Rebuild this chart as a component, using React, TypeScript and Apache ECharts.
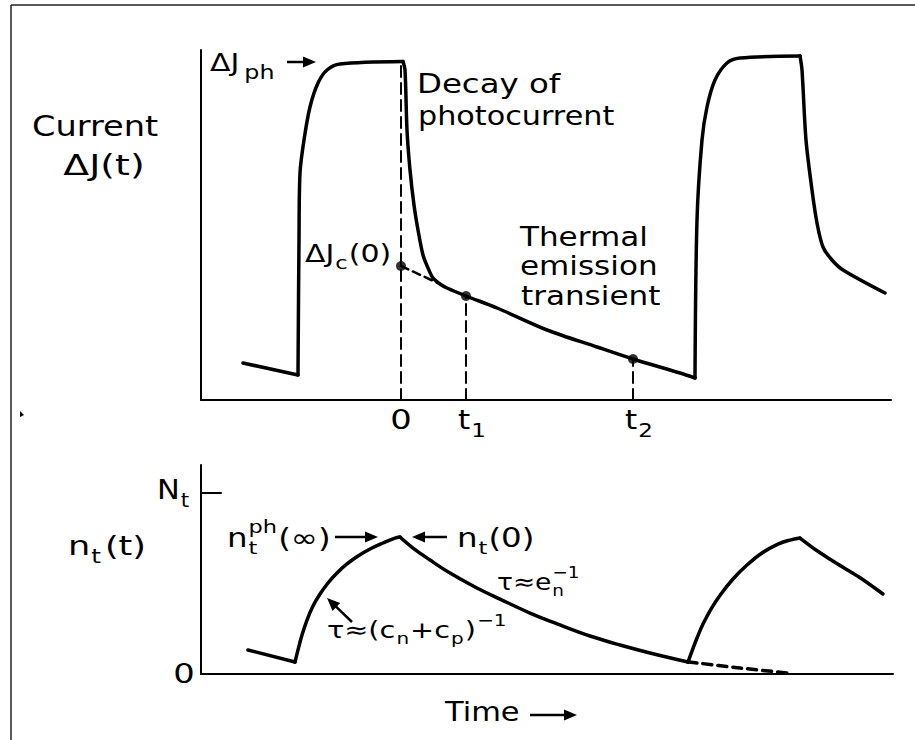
import React, { useEffect, useRef } from 'react';
import * as echarts from 'echarts';

// ---------- Top panel: current ΔJ(t) vs time (arbitrary units, t = 0 at end of light pulse) ----------
const currentStart = [[-15.8, 3.7], [-10.3, 2.5]];
const currentRise1 = [[-10.3, 2.5], [-10.2, 16.0], [-10.1, 22.7], [-9.7, 26.0], [-9.1, 29.3], [-8.3, 31.7], [-7.4, 33.0], [-6.1, 33.6], [0.2, 33.85]];
const currentDecay1 = [[0.2, 33.85], [0.4, 33.0], [0.6, 27.0], [0.9, 23.0], [1.3, 19.5], [1.7, 17.0], [2.2, 14.5], [2.7, 13.2], [3.2, 12.2], [3.9, 11.6], [4.6, 11.2], [6.5, 10.4], [9.6, 9.2], [14.6, 7.0], [19.6, 5.3], [23.2, 4.1], [27.9, 2.7], [29.4, 2.2]];
const currentRise2 = [[29.4, 2.2], [29.6, 18.0], [30.1, 26.0], [30.6, 29.3], [31.4, 32.0], [32.6, 33.7], [33.9, 34.2], [39.9, 34.4]];
const currentDecay2 = [[39.9, 34.4], [40.1, 33.0], [40.5, 26.0], [41.1, 21.0], [41.6, 17.7], [42.2, 15.3], [43.1, 14.0], [44.2, 13.0], [48.4, 10.7]];
const thermalExtrapolation = [[0, 13.4], [3.9, 11.6]];
const markedPoints = [[0, 13.4], [6.5, 10.4], [23.2, 4.1]];
const dropLineTops = [[0, 33.8], [6.5, 10.4], [23.2, 4.1]];
const tickTimes = [0, 6.5, 23.2];
const tickNames = [['0', ''], ['t', '1'], ['t', '2']];

// ---------- Bottom panel: trap occupancy n_t(t) (fraction of N_t) ----------
const occStart = [[-15.3, 0.133], [-10.6, 0.066]];
const occRise1 = [[-10.6, 0.066], [-10.3, 0.133], [-9.9, 0.215], [-9.4, 0.298], [-8.8, 0.376], [-8.1, 0.442], [-7.3, 0.503], [-6.4, 0.558], [-5.4, 0.608], [-4.3, 0.652], [-3.1, 0.691], [-1.8, 0.724], [-0.6, 0.751], [-0.1, 0.757]];
const occDecay1 = [[-0.1, 0.757], [1.2, 0.696], [2.9, 0.630], [4.9, 0.558], [7.4, 0.481], [9.9, 0.414], [12.9, 0.337], [15.9, 0.271], [18.9, 0.210], [21.9, 0.160], [24.9, 0.116], [28.7, 0.066]];
const occRise2 = [[28.7, 0.066], [29.1, 0.127], [29.6, 0.199], [30.2, 0.276], [31.0, 0.359], [32.0, 0.442], [33.2, 0.525], [34.6, 0.602], [36.1, 0.669], [37.7, 0.718], [38.9, 0.740], [39.9, 0.751]];
const occDecay2 = [[39.9, 0.751], [41.5, 0.685], [43.5, 0.613], [45.8, 0.536], [48.2, 0.442]];
const occExtrapolation = [[28.7, 0.066], [29.6, 0.061], [33.9, 0.033], [38.6, 0.006]];
const NtLevel = 1;
const NtTick = [[-20, NtLevel], [-18, NtLevel]];

const FONT = '"DejaVu Sans", sans-serif';
const SX = 1.13;
let measureCtx: CanvasRenderingContext2D | null = null;
function measure(t: string, size: number) {
  if (!measureCtx) measureCtx = document.createElement('canvas').getContext('2d');
  measureCtx!.font = `${size}px "DejaVu Sans"`;
  return measureCtx!.measureText(t).width;
}
type Part = { t: string; k?: 'n' | 'sub' | 'sup'; stay?: boolean; gap?: number; size?: number };
function label(x: number, y: number, parts: Part[], size: number, align: 'left' | 'center' = 'left', sx = SX) {
  const small = Math.round(size * 0.7);
  let cx = 0;
  const items: any[] = [];
  for (const p of parts) {
    const k = p.k || 'n';
    const fs = p.size ?? (k === 'n' ? size : small);
    const dy = k === 'sub' ? size * 0.38 : k === 'sup' ? -size * 0.42 : 0;
    cx += p.gap ?? 0;
    const w = measure(p.t, fs) * sx;
    items.push({ t: p.t, fs, dx: cx + (k !== 'n' ? 1 : 0), dy });
    if (!p.stay) cx += w + (k !== 'n' ? 2 : 0);
  }
  const x0 = align === 'center' ? x - cx / 2 : x;
  return items.map((it) => ({
    type: 'text', x: x0 + it.dx, y: y + it.dy, scaleX: sx, silent: true,
    style: { text: it.t, fontSize: it.fs, fontFamily: FONT, fill: '#000', align: 'left', verticalAlign: 'middle', textAlign: 'left', textVerticalAlign: 'middle' },
  }));
}
function arrow(x1: number, y1: number, x2: number, y2: number) {
  const L = Math.hypot(x2 - x1, y2 - y1);
  const dx = (x2 - x1) / L, dy = (y2 - y1) / L;
  const hl = 13, hw = 5.5;
  const bx = x2 - dx * hl, by = y2 - dy * hl;
  const px = -dy, py = dx;
  return [
    { type: 'line', silent: true, shape: { x1, y1, x2: bx + dx * 3, y2: by + dy * 3 }, style: { stroke: '#000', lineWidth: 2.5 } },
    { type: 'polygon', silent: true, shape: { points: [[x2, y2], [bx + px * hw, by + py * hw], [bx - px * hw, by - py * hw]] }, style: { fill: '#000' } },
  ];
}

export default function App() {
  const ref = useRef<HTMLDivElement>(null);
  useEffect(() => {
    const chart = echarts.init(ref.current!, null, { renderer: 'svg' });
    const axisBase = {
      axisLine: { show: true, onZero: false, lineStyle: { color: '#000', width: 2 } },
      axisTick: { show: false }, axisLabel: { show: false }, splitLine: { show: false },
    };
    const ln = (data: number[][], gi: number, extra: any = {}) => ({
      type: 'line', xAxisIndex: gi, yAxisIndex: gi, data, symbol: 'none', showSymbol: false, silent: true,
      smooth: extra.smooth ?? 0, z: extra.z ?? 3,
      lineStyle: { color: '#000', width: extra.width ?? 3.5, type: extra.type ?? 'solid', cap: 'round', join: 'round' },
    });
    chart.setOption({
      animation: false,
      backgroundColor: '#fff',
      grid: [
        { left: 201, top: 50, width: 690, height: 350 },
        { left: 201, top: 465, width: 692, height: 209 },
      ],
      xAxis: [
        { type: 'value', gridIndex: 0, min: -20, max: 49, ...axisBase },
        { type: 'value', gridIndex: 1, min: -20, max: 49.2, ...axisBase },
      ],
      yAxis: [
        { type: 'value', gridIndex: 0, min: 0, max: 35, ...axisBase },
        { type: 'value', gridIndex: 1, min: 0, max: 1.155, ...axisBase },
      ],
      series: [
        ln(currentStart, 0),
        ln(currentRise1, 0, { smooth: 0.3 }),
        ln(currentDecay1, 0, { smooth: 0.3 }),
        ln(currentRise2, 0, { smooth: 0.3 }),
        ln(currentDecay2, 0, { smooth: 0.3 }),
        ln(thermalExtrapolation, 0, { width: 2.5, type: [8, 5] }),
        ...dropLineTops.map((p) => ln([[p[0], 0], p], 0, { width: 2, type: [11, 6], z: 2 })),
        {
          type: 'scatter', xAxisIndex: 0, yAxisIndex: 0, data: markedPoints, symbol: 'circle', symbolSize: 10, silent: true,
          itemStyle: { color: '#000' }, z: 4,
        },
        ln(occStart, 1),
        ln(occRise1, 1, { smooth: 0.4 }),
        ln(occDecay1, 1, { smooth: 0.4 }),
        ln(occRise2, 1, { smooth: 0.4 }),
        ln(occDecay2, 1, { smooth: 0.3 }),
        ln(occExtrapolation, 1, { width: 3.5, type: [9, 6], smooth: 0.3 }),
        ln(NtTick, 1, { width: 2 }),
      ],
    });

    const g: any[] = [];
    // frame
    g.push({ type: 'line', silent: true, shape: { x1: 11, y1: 5, x2: 915, y2: 5 }, style: { stroke: '#222', lineWidth: 1.5 } });
    g.push({ type: 'line', silent: true, shape: { x1: 11, y1: 5, x2: 11, y2: 740 }, style: { stroke: '#222', lineWidth: 1.5 } });
    g.push({ type: 'polygon', silent: true, shape: { points: [[20, 411], [24, 415], [20, 417]] }, style: { fill: '#000' } });

    // tick labels on the time axis of the top panel
    tickTimes.forEach((t, i) => {
      const [px, py] = chart.convertToPixel({ gridIndex: 0 } as any, [t, 0]) as number[];
      const [a, b] = tickNames[i];
      if (b) g.push(...label(px - 8, py + 20, [{ t: a }, { t: b, k: 'sub', size: 20 }], 27, 'left', 1.15));
      else g.push(...label(px, py + 20, [{ t: a }], 27, 'center', 1.25));
    });
    const [, pNt] = chart.convertToPixel({ gridIndex: 1 } as any, [0, NtLevel]) as number[];
    const [, p0] = chart.convertToPixel({ gridIndex: 1 } as any, [0, 0]) as number[];
    g.push(...label(157, pNt - 3, [{ t: 'N' }, { t: 't', k: 'sub' }], 27));
    g.push(...label(184, p0, [{ t: '0' }], 27, 'center', 1.25));

    // axis titles
    g.push(...label(32, 126, [{ t: 'Current' }], 28, 'left', 1.2));
    g.push(...label(104, 165, [{ t: 'ΔJ(t)' }], 28, 'center', 1.35));
    g.push(...label(68, 546, [{ t: 'n' }, { t: 't', k: 'sub' }, { t: '(t)', gap: 3 }], 27, 'left', 1.3));
    g.push(...label(445, 712, [{ t: 'Time' }], 27));
    g.push(...arrow(530, 715, 577, 715));

    // annotations, top panel
    g.push(...label(210, 63, [{ t: 'ΔJ' }, { t: 'ph', k: 'sub', size: 19, gap: 4 }], 24, 'left', 1.25));
    g.push(...arrow(287, 62, 316, 62));
    g.push(...label(417, 83, [{ t: 'Decay of' }], 27, 'left', 1.2));
    g.push(...label(418, 116, [{ t: 'photocurrent' }], 27, 'left', 1.12));
    g.push(...label(520, 237, [{ t: 'Thermal' }], 27, 'left', 1.15));
    g.push(...label(520, 266, [{ t: 'emission' }], 27, 'left', 1.15));
    g.push(...label(521, 296, [{ t: 'transient' }], 27, 'left', 1.15));
    g.push(...label(305, 254, [{ t: 'ΔJ' }, { t: 'c', k: 'sub', size: 18 }, { t: '(0)' }], 24, 'left', 1.25));

    // annotations, bottom panel
    g.push(...label(227, 538, [{ t: 'n' }, { t: 't', k: 'sub', stay: true }, { t: 'ph', k: 'sup' }, { t: '(∞)' }], 26, 'left', 1.25));
    g.push(...arrow(335, 537, 378, 537));
    g.push(...arrow(447, 537, 412, 537));
    g.push(...label(457, 538, [{ t: 'n' }, { t: 't', k: 'sub' }, { t: '(0)' }], 26, 'left', 1.25));
    g.push(...label(497, 582, [{ t: 'τ≈e' }, { t: 'n', k: 'sub', stay: true }, { t: '−1', k: 'sup' }], 23, 'left', 1.15));
    g.push(...label(327, 630, [{ t: 'τ≈(c' }, { t: 'n', k: 'sub' }, { t: '+c' }, { t: 'p', k: 'sub' }, { t: ')' }, { t: '−1', k: 'sup' }], 23, 'left', 1.25));
    g.push(...arrow(352, 622, 327, 598));

    chart.setOption({ graphic: { elements: g } });
    return () => chart.dispose();
  }, []);
  return <div ref={ref} style={{ position: 'fixed', left: 0, top: 0, width: 915, height: 740, background: '#fff' }} />;
}
